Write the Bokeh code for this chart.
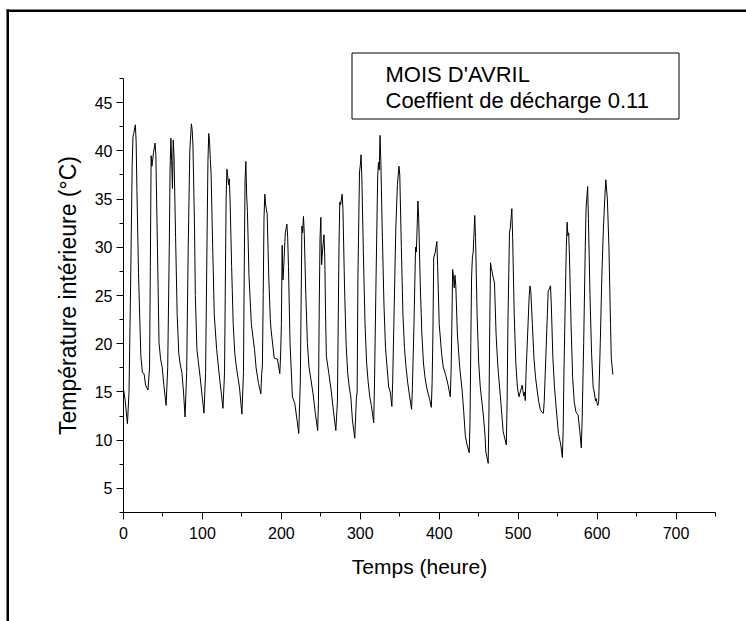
from bokeh.plotting import figure
from bokeh.models import Range1d, FixedTicker, BoxAnnotation, Label
from bokeh.embed import file_html
from bokeh.resources import INLINE

# Hourly interior temperature, April (vertices)
hours = [0, 2, 5, 7, 9, 11, 12, 13, 15, 16, 17, 19, 21, 22, 24, 26, 28, 31,
         33, 34, 35, 36, 38, 40, 41, 43, 45, 47, 49, 51, 54,
         56, 58, 59, 60, 61, 62, 63, 64, 66, 68, 70, 72, 74, 76, 78,
         80, 82, 84, 86, 87, 88, 90, 91, 93, 95, 97, 100, 102,
         104, 106, 107, 108, 109, 110, 111, 113, 115, 118, 120, 122, 124, 126,
         128, 129, 130, 131, 132, 133, 134, 135, 137, 139, 141, 143, 145, 147, 150,
         152, 153, 154, 155, 156, 157, 159, 162, 166, 168, 171, 174,
         175, 176, 177, 178, 179, 180, 181, 182, 184, 186, 187, 191, 195, 198,
         199, 200, 201, 202, 203, 205, 207, 208, 209, 211, 214, 217, 220, 222,
         224, 225, 226, 227, 228, 229, 231, 233, 235, 240, 243, 246,
         247, 248, 249, 250, 251, 252, 254, 255, 256, 257, 260, 263, 266, 269,
         271, 272, 273, 274, 275, 277, 278, 280, 282, 284, 286, 288, 290, 293,
         295, 296, 297, 299, 300, 301, 302, 304, 306, 308, 310, 312, 314, 317,
         318, 320, 322, 323, 324, 325, 326, 328, 330, 332, 334, 336, 338, 340,
         341, 343, 345, 347, 349, 350, 352, 354, 356, 358, 360, 362, 365,
         366, 368, 370, 371, 372, 373, 374, 376, 378, 380, 382, 384, 386, 388, 390,
         391, 392, 393, 395, 397, 398, 400, 403, 405, 408, 411, 414,
         415, 416, 417, 418, 419, 420, 421, 423, 426, 429, 431, 433, 435, 438,
         439, 440, 441, 442, 443, 445, 446, 448, 450, 452, 454, 456, 458, 459, 462,
         463, 464, 465, 466, 467, 468, 470, 472, 474, 475, 478, 481, 483, 485,
         486, 487, 489, 490, 492, 493, 495, 497, 499, 501, 503, 505, 507, 508, 509,
         510, 512, 514, 515, 516, 518, 520, 522, 524, 526, 528, 530, 532,
         533, 535, 537, 538, 539, 541, 542, 544, 546, 548, 551, 554, 556,
         557, 558, 560, 561, 562, 563, 564, 565, 567, 569, 571, 573, 574, 576, 578, 580,
         581, 583, 585, 586, 588, 589, 591, 593, 595, 596, 598, 599, 600, 601,
         602, 604, 606, 608, 610, 611, 613, 615, 617, 618, 620]

temps = [15.3, 14.2, 11.7, 15.0, 26.0, 38.5, 41.5, 41.8, 42.7, 41.0, 36.0, 27.4, 21.5, 18.7, 17.0, 16.9, 15.7, 15.2,
         17.5, 28.0, 39.5, 38.4, 39.8, 40.8, 39.5, 30.0, 20.1, 18.4, 17.6, 15.8, 13.6,
         17.5, 30.0, 38.0, 41.3, 39.0, 36.1, 41.1, 39.5, 31.0, 23.0, 19.0, 17.8, 17.0, 15.0, 12.4,
         17.0, 30.0, 40.0, 42.8, 42.2, 40.5, 32.0, 25.0, 19.4, 18.0, 16.6, 14.3, 12.8,
         17.0, 32.0, 39.0, 41.8, 41.0, 39.1, 37.5, 30.0, 23.0, 19.4, 17.8, 16.2, 14.8, 13.3,
         17.0, 26.0, 35.0, 38.1, 37.4, 36.5, 37.1, 35.0, 28.0, 22.0, 19.0, 17.6, 16.5, 15.4, 12.7,
         17.0, 28.0, 37.0, 38.9, 35.5, 33.7, 27.0, 22.0, 19.4, 17.5, 15.9, 14.8,
         16.8, 17.8, 25.0, 33.0, 35.5, 34.5, 33.9, 33.5, 27.0, 22.5, 21.4, 18.5, 18.4, 16.9,
         18.7, 22.0, 30.2, 26.6, 28.0, 31.5, 32.4, 31.0, 28.0, 20.0, 14.5, 13.8, 12.0, 10.7,
         16.0, 24.0, 32.2, 31.5, 33.2, 31.5, 25.0, 20.0, 17.6, 14.9, 12.8, 11.0,
         14.0, 24.0, 31.0, 33.1, 28.2, 29.5, 31.3, 29.0, 23.0, 18.7, 17.0, 15.2, 13.0, 11.0,
         14.0, 22.0, 30.0, 34.7, 34.4, 35.5, 34.0, 26.0, 20.0, 17.0, 15.5, 14.5, 12.1, 10.2,
         14.3, 15.0, 27.0, 37.8, 38.5, 39.6, 37.0, 29.0, 22.0, 18.0, 16.0, 14.5, 13.6, 11.8,
         16.0, 27.0, 37.3, 38.8, 38.0, 41.6, 39.0, 31.0, 24.0, 19.5, 17.5, 15.5, 15.0, 13.5,
         16.0, 24.0, 32.0, 36.5, 38.4, 37.5, 30.0, 23.0, 19.5, 17.5, 16.0, 14.8, 13.2,
         15.5, 22.0, 30.0, 29.5, 32.0, 34.8, 33.0, 26.0, 21.0, 18.0, 16.5, 15.5, 14.8, 14.2, 13.4,
         16.0, 21.0, 28.9, 29.5, 30.6, 28.0, 22.0, 19.0, 17.6, 16.8, 15.8, 14.5,
         17.0, 22.0, 27.7, 27.0, 25.8, 27.1, 26.0, 21.0, 17.5, 15.2, 13.0, 10.5, 9.6, 8.7,
         12.0, 20.0, 27.0, 28.9, 29.5, 33.3, 31.0, 23.0, 18.0, 15.5, 14.0, 12.5, 10.5, 8.8, 7.6,
         13.0, 22.0, 28.4, 27.8, 27.5, 27.0, 26.3, 21.0, 18.0, 16.9, 14.0, 10.9, 10.2, 9.5,
         14.0, 22.0, 31.5, 32.0, 34.0, 31.0, 23.0, 18.0, 15.5, 14.5, 15.1, 15.7, 14.6, 15.0, 14.1,
         17.0, 21.0, 25.0, 26.0, 25.5, 22.0, 18.5, 16.5, 15.2, 14.0, 13.2, 12.9, 12.8,
         14.0, 18.5, 23.0, 25.4, 25.6, 26.0, 24.0, 18.5, 15.5, 13.5, 10.7, 9.5, 8.2,
         11.0, 17.0, 26.0, 30.0, 32.6, 31.2, 31.5, 29.0, 22.0, 16.5, 14.0, 13.0, 12.8, 12.6, 11.0, 9.2,
         12.0, 20.0, 30.0, 34.0, 36.3, 33.0, 25.0, 19.0, 15.5, 15.2, 14.1, 14.3, 13.8, 13.6,
         14.0, 20.0, 27.0, 32.0, 35.5, 37.0, 35.0, 30.0, 22.0, 18.5, 16.8]

x_major = [0, 100, 200, 300, 400, 500, 600, 700]
x_minor = [50, 150, 250, 350, 450, 550, 650, 750]
y_major = [5, 10, 15, 20, 25, 30, 35, 40, 45]
y_minor = [2.5, 7.5, 12.5, 17.5, 22.5, 27.5, 32.5, 37.5, 42.5, 47.5]
x_axis_span = (0, 750)
y_axis_span = (2.5, 47.5)

x_label = "Temps (heure)"
y_label = "Température intérieure (°C)"
legend_lines = ["MOIS D'AVRIL", "Coeffient de décharge 0.11"]

FONT = "Liberation Sans"

# The plot frame covers the whole page; the axes sit at fixed data positions
# (axis box: 123..715 px horizontally, 78..512 px vertically).
W, H = 746, 621
L, R, T, B = 123.0, 715.0, 78.0, 512.0
xs = (R - L) / (x_axis_span[1] - x_axis_span[0])
ys = (B - T) / (y_axis_span[1] - y_axis_span[0])
x_range = Range1d(x_axis_span[0] - L / xs, x_axis_span[1] + (W - R) / xs)
y_range = Range1d(y_axis_span[0] - (H - B) / ys, y_axis_span[1] + T / ys)

p = figure(width=W, height=H, output_backend="svg", toolbar_location=None,
           x_range=x_range, y_range=y_range,
           min_border_left=0, min_border_right=0, min_border_top=0, min_border_bottom=0)
p.outline_line_color = None
p.grid.visible = False
p.background_fill_color = "white"
p.border_fill_color = "white"

p.line(x=hours, y=temps, line_color="black", line_width=1)

p.xaxis.ticker = FixedTicker(ticks=x_major, minor_ticks=x_minor)
p.yaxis.ticker = FixedTicker(ticks=y_major, minor_ticks=y_minor)
p.xaxis.fixed_location = y_axis_span[0]
p.yaxis.fixed_location = x_axis_span[0]
p.xaxis.bounds = x_axis_span
p.yaxis.bounds = y_axis_span
for ax in (p.xaxis[0], p.yaxis[0]):
    ax.axis_line_color = "black"
    ax.axis_line_width = 1
    ax.major_tick_line_color = "black"
    ax.minor_tick_line_color = "black"
    ax.major_tick_out = 7
    ax.major_tick_in = 0
    ax.minor_tick_out = 4
    ax.minor_tick_in = 0
    ax.major_label_text_font = FONT
    ax.major_label_text_font_size = "16px"
    ax.major_label_text_color = "black"
    ax.axis_label_text_font = FONT
    ax.axis_label_text_font_style = "normal"
    ax.axis_label_text_color = "black"
p.xaxis.axis_label_text_font_size = "21px"
p.yaxis.axis_label_text_font_size = "23px"
p.xaxis.axis_label = x_label
p.yaxis.axis_label = y_label
p.xaxis.major_label_standoff = 7
p.yaxis.major_label_standoff = 4
p.xaxis.axis_label_standoff = 13
p.yaxis.axis_label_standoff = 11


def canvas_box(l, r, t, b, **kw):
    return BoxAnnotation(left=l, right=r, top=t, bottom=b,
                         left_units="canvas", right_units="canvas",
                         top_units="canvas", bottom_units="canvas", **kw)


# Outer page frame (left and top rules)
p.add_layout(canvas_box(6, 746, 9, 11.5, fill_color="black", fill_alpha=1,
                        line_color=None, line_alpha=0))
p.add_layout(canvas_box(6, 8.5, 9, 621, fill_color="black", fill_alpha=1,
                        line_color=None, line_alpha=0))
# keep the right page edge clear
p.add_layout(canvas_box(740, 746, 11.5, 621, fill_color="white", fill_alpha=1,
                        line_color=None, line_alpha=0))

# Legend text box
p.add_layout(canvas_box(351.5, 678.5, 52.5, 118.5, fill_color="white", fill_alpha=1,
                        line_color="black", line_alpha=1, line_width=1))
for i, txt in enumerate(legend_lines):
    p.add_layout(Label(x=385, y=74 + 26 * i, x_units="canvas", y_units="canvas",
                       text=txt, text_font=FONT, text_font_size="22px",
                       text_baseline="middle", text_align="left", text_color="black"))

open("out.html", "w").write(file_html(p, INLINE))
